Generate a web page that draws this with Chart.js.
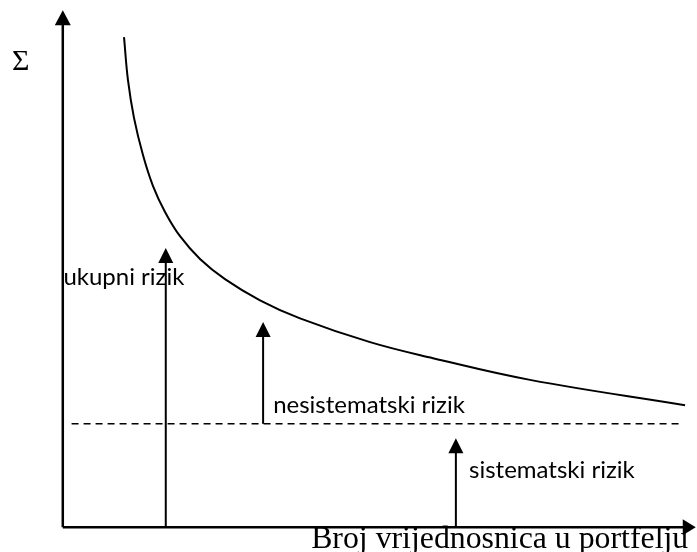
<!DOCTYPE html>
<html>
<head>
<meta charset="utf-8">
<script src="https://cdn.jsdelivr.net/npm/chart.js@4"></script>
<style>
  html, body { margin: 0; padding: 0; background: #fff; }
  #wrap { width: 697px; height: 552px; }
</style>
</head>
<body>
<div id="wrap"><canvas id="risk_chart" width="697" height="552"></canvas></div>
<script>
// ukupni rizik (total risk) vs. number of securities
var curveX = [9.75, 10.38, 11.34, 12.77, 14.37, 16.28, 18.67, 21.85, 25.83, 31.41, 37.78, 48.93, 58.96, 74.41, 99.1];
var curveY = [94.8, 86.5, 79.2, 72.0, 66.0, 61.0, 56.3, 51.9, 48.0, 43.9, 40.4, 35.8, 32.7, 28.5, 23.6];

// sistematski rizik level (dashed)
var systematicRisk = 20;
var systematicFrom = 1.4;
var systematicTo = 98.7;

// axis ends
var xAxisEnd = 100.8;
var yAxisEnd = 100;

// annotation arrows: x, start value, tip value
var arrowX = [16.4, 31.9, 62.6];
var arrowFrom = [0, 20, 0];
var arrowTo = [54.0, 39.7, 17.2];

// labels
var labelText = ["Σ", "ukupni rizik", "nesistematski rizik", "sistematski rizik", "Broj vrijednosnica u portfelju"];
var labelX = [-8.1, 0.1, 33.5, 64.7, 99.6];
var labelY = [88.4, 46.9, 22.1, 9.5, -4.0];

var sans = "24px Lato, 'Open Sans', sans-serif";
var serif = "30px 'Liberation Serif', 'DejaVu Serif', serif";
var bigSerif = "31.8px 'Liberation Serif', 'DejaVu Serif', serif";
var labelFont = [serif, sans, sans, sans, bigSerif];
var labelAlign = ["left", "left", "left", "left", "right"];

function pts(xs, ys) {
  return xs.map(function (x, i) { return { x: x, y: ys[i] }; });
}

var datasets = [
  {
    label: "ukupni rizik",
    data: pts(curveX, curveY),
    borderColor: "#000",
    borderWidth: 2,
    tension: 0.4,
  },
  {
    label: "sistematski rizik",
    data: [{ x: systematicFrom, y: systematicRisk }, { x: systematicTo, y: systematicRisk }],
    borderColor: "#000",
    borderWidth: 1.5,
    borderDash: [7, 5],
  },
  {
    label: "x os",
    data: [{ x: 0, y: 0 }, { x: xAxisEnd - 1, y: 0 }],
    borderColor: "#000",
    borderWidth: 2.5,
  },
  {
    label: "y os",
    data: [{ x: 0, y: 0 }, { x: 0, y: yAxisEnd - 1 }],
    borderColor: "#000",
    borderWidth: 2.5,
  },
];
arrowX.forEach(function (x, i) {
  datasets.push({
    label: "strelica " + i,
    data: [{ x: x, y: arrowFrom[i] }, { x: x, y: arrowTo[i] - 1 }],
    borderColor: "#000",
    borderWidth: 2,
  });
});

function head(ctx, tx, ty, dir, len, half) {
  ctx.beginPath();
  if (dir === "up") {
    ctx.moveTo(tx, ty);
    ctx.lineTo(tx - half, ty + len);
    ctx.lineTo(tx + half, ty + len);
  } else {
    ctx.moveTo(tx, ty);
    ctx.lineTo(tx - len, ty - half);
    ctx.lineTo(tx - len, ty + half);
  }
  ctx.closePath();
  ctx.fill();
}

var arrowsAndText = {
  id: "arrowsAndText",
  afterDatasetsDraw: function (chart) {
    var ctx = chart.ctx;
    var sx = chart.scales.x, sy = chart.scales.y;
    ctx.save();
    ctx.fillStyle = "#000";
    // axis heads
    head(ctx, sx.getPixelForValue(0), sy.getPixelForValue(yAxisEnd), "up", 15, 8);
    head(ctx, sx.getPixelForValue(xAxisEnd), sy.getPixelForValue(0), "right", 13, 8);
    // annotation heads
    arrowX.forEach(function (x, i) {
      head(ctx, sx.getPixelForValue(x), sy.getPixelForValue(arrowTo[i]), "up", 15, 7.5);
    });
    // text
    ctx.textBaseline = "alphabetic";
    labelText.forEach(function (t, i) {
      ctx.font = labelFont[i];
      ctx.textAlign = labelAlign[i];
      ctx.fillText(t, sx.getPixelForValue(labelX[i]), sy.getPixelForValue(labelY[i]));
    });
    ctx.restore();
  },
};

var ctx = document.getElementById("risk_chart").getContext("2d");
var risk_chart = new Chart(ctx, {
  type: "scatter",
  data: { datasets: datasets },
  options: {
    responsive: false,
    animation: false,
    showLine: true,
    clip: false,
    layout: { padding: 0 },
    elements: { point: { radius: 0, hoverRadius: 0 } },
    scales: {
      x: { type: "linear", min: -10, max: 101, display: false },
      y: { type: "linear", min: -4.8, max: 102, display: false },
    },
    plugins: {
      legend: { display: false },
      tooltip: { enabled: false },
    },
  },
  plugins: [arrowsAndText],
});
</script>
</body>
</html>
